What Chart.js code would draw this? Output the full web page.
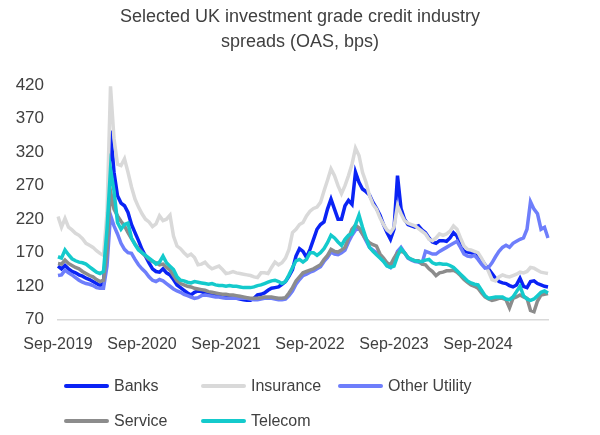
<!DOCTYPE html>
<html>
<head>
<meta charset="utf-8">
<script src="https://cdn.jsdelivr.net/npm/chart.js@4.4.1/dist/chart.umd.min.js"></script>
<style>
  body { margin: 0; background: #fff; font-family: 'Liberation Sans', Arial, sans-serif; }
  #wrap { position: relative; width: 600px; height: 435px; }
  #legend { position: absolute; left: 64px; top: 376px; display: grid; grid-template-columns: 137px 137px 137px; row-gap: 15px; }
  .item { display: flex; align-items: center; height: 20px; font-size: 16px; color: #404040; }
  .swatch { width: 45px; height: 4px; margin-right: 5px; border-radius: 2px; }
</style>
</head>
<body>
<div id="wrap">
  <canvas id="myChart" width="600" height="435"></canvas>
  <div id="legend"></div>
</div>
<script>
// semi-monthly points, Sep-2019 onwards
var dates = [];
for (var i = 0; i <= 140; i++) {
  var m = 8 + Math.floor(i / 2);
  var d = new Date(2019, m, i % 2 ? 16 : 1);
  dates.push(d.toISOString().slice(0, 10));
}
var tickLabels = ['Sep-2019', 'Sep-2020', 'Sep-2021', 'Sep-2022', 'Sep-2023', 'Sep-2024'];

var banks = [
  150, 146, 151, 146, 142, 140, 137, 135, 132, 130,
  127, 124, 121, 124, 200, 352, 290, 255, 244, 240,
  230, 212, 200, 188, 175, 165, 155, 146, 142, 141,
  146, 140, 137, 130, 122, 118, 114, 110, 107, 111,
  113, 112, 110, 109, 107, 106, 105, 104, 104, 103,
  102, 102, 101, 100, 99, 99, 102, 107, 108, 110,
  114, 117, 118, 119, 123, 127, 135, 145, 165, 176,
  172, 163, 175, 190, 205, 212, 216, 235, 250, 235,
  220, 220, 240, 248, 242, 290, 275, 265, 261, 256,
  245, 236, 226, 212, 200, 190, 205, 285, 236, 220,
  212, 210, 208, 210, 204, 200, 192, 186, 184, 188,
  188, 187, 192, 200, 195, 180, 172, 171, 170, 168,
  166, 160, 152, 146, 139, 132, 127, 125, 124, 121,
  119, 122, 132, 120, 118, 127, 128, 124, 122, 120,
  119
];
var insurance = [
  224, 208, 221, 208, 204, 199, 196, 191, 184, 181,
  178, 173, 169, 166, 230, 418, 340, 302, 300, 310,
  290, 268, 250, 238, 228, 220, 216, 209, 213, 225,
  218, 220, 226, 195, 180, 176, 170, 165, 168, 163,
  152, 153, 156, 150, 146, 148, 150, 145, 139, 140,
  142, 140, 139, 138, 137, 136, 134, 133, 140, 140,
  139, 148, 156, 152, 155, 162, 175, 200, 205, 212,
  215, 225, 232, 236, 238, 245, 262, 278, 295, 285,
  270, 258, 270, 285, 302, 326, 315, 290, 275, 255,
  242, 235, 222, 212, 204, 200, 208, 240, 228, 218,
  214, 212, 210, 206, 202, 198, 190, 188, 192, 198,
  196, 198, 202, 210, 205, 192, 180, 175, 174, 172,
  170, 162, 152, 142, 130, 128, 134, 137, 135, 134,
  136, 138, 141, 140, 142, 148, 147, 144, 141, 140,
  139
];
var otherUtility = [
  136, 137, 144, 140, 137, 133, 129, 126, 124, 123,
  121, 118, 117, 117, 150, 226, 210, 198, 184, 175,
  170, 169, 160, 152, 146, 141, 134, 129, 127, 130,
  128, 124, 120, 116, 113, 111, 108, 106, 104, 102,
  103, 106, 107, 106, 105, 104, 104, 103, 102, 102,
  102, 102, 102, 102, 102, 101, 100, 100, 101, 102,
  102, 102, 101, 100, 100, 101, 106, 113, 123, 130,
  136, 138, 141, 143, 146, 149, 157, 163, 171, 168,
  167, 170, 174, 186, 196, 204, 206, 198, 188, 178,
  174, 170, 164, 158, 151, 148, 158, 172, 178, 170,
  162, 159, 157, 156, 154, 172, 170, 168, 168, 172,
  175, 178, 181, 184, 187, 178, 168, 165, 164, 166,
  160, 153, 147, 148, 155, 164, 172, 178, 181, 178,
  184, 187, 190, 192, 205, 246, 235, 228, 205, 208,
  192
];
var service = [
  154, 153, 159, 154, 151, 148, 146, 142, 139, 136,
  134, 130, 127, 129, 170, 262, 235, 225, 217, 210,
  200, 191, 183, 176, 170, 165, 160, 157, 155, 152,
  153, 148, 144, 136, 128, 124, 122, 120, 119, 117,
  116, 115, 114, 112, 111, 110, 109, 108, 108, 107,
  107, 106, 105, 104, 103, 102, 102, 102, 103, 104,
  104, 104, 103, 102, 102, 103, 110, 118, 128, 134,
  140, 142, 144, 146, 149, 152, 160, 166, 175, 172,
  171, 174, 178, 192, 205, 211, 207, 198, 190, 185,
  182, 180, 168, 162, 155, 152, 162, 170, 172, 170,
  163, 160, 158, 158, 153, 152, 146, 142, 136, 140,
  141, 143, 143, 144, 141, 136, 130, 126, 122, 120,
  117, 110, 104, 101, 99, 100, 102, 102, 100, 88,
  102, 104, 107, 104, 102, 84, 82, 98, 107, 108,
  109
];
var telecom = [
  164, 162, 174, 167, 161, 158, 156, 155, 153, 149,
  145, 141, 139, 142, 205, 295, 262, 215, 205, 212,
  214, 192, 182, 174, 170, 166, 162, 158, 153, 156,
  165, 155, 150, 145, 134, 129, 128, 126, 125, 127,
  126, 125, 124, 123, 124, 122, 121, 121, 120, 121,
  120, 120, 119, 118, 118, 118, 119, 121, 122, 124,
  126, 128, 129, 127, 124, 127, 137, 148, 158, 160,
  156, 160, 170, 170, 166, 170, 176, 185, 196, 192,
  186, 181, 190, 196, 198, 212, 226, 208, 192, 178,
  172, 167, 162, 157, 150, 148, 150, 165, 176, 170,
  163, 160, 158, 157, 157, 159, 160, 155, 153, 154,
  153, 153, 151, 148, 143, 138, 133, 128, 125, 123,
  122, 114, 106, 102, 103, 104, 104, 104, 101, 100,
  104, 112, 120, 106, 101, 99, 101, 106, 111, 113,
  110
];

var font = "'Liberation Sans', Arial, sans-serif";
var textColor = '#404040';

function series(label, data, color, order) {
  return { label: label, data: data, borderColor: color, backgroundColor: color,
           borderWidth: 3.5, pointRadius: 0, tension: 0, order: order, yAxisID: 'y' };
}

const ctx = document.getElementById('myChart').getContext('2d');
const myChart = new Chart(ctx, {
  type: 'line',
  data: {
    labels: dates,
    datasets: [
      series('Banks', banks, '#0A23F5', 5),
      series('Insurance', insurance, '#D9D9D9', 4),
      series('Other Utility', otherUtility, '#6E7EFB', 3),
      series('Service', service, '#8C8C8C', 2),
      series('Telecom', telecom, '#14CACC', 1)
    ]
  },
  options: {
    responsive: false,
    animation: false,
    layout: { padding: { left: 0, right: 0, top: 0, bottom: 66 } },
    plugins: {
      legend: { display: false },
      tooltip: { enabled: false },
      title: {
        display: true,
        text: ['Selected UK investment grade credit industry', 'spreads (OAS, bps)'],
        color: textColor,
        font: { family: font, size: 18, weight: 'normal', lineHeight: 1.39 },
        padding: { top: 5, bottom: 30 }
      }
    },
    scales: {
      x: {
        type: 'category',
        offset: false,
        grid: { display: false, drawTicks: false, tickLength: 0 },
        border: { display: true, color: '#D9D9D9', width: 1.5 },
        ticks: {
          autoSkip: false, maxRotation: 0, minRotation: 0, padding: 15,
          color: textColor, font: { family: font, size: 16 },
          callback: function (val, index) {
            return index % 24 === 0 ? tickLabels[index / 24] : null;
          }
        }
      },
      y: {
        min: 70, max: 420,
        grid: { display: false, drawTicks: false, tickLength: 0 },
        border: { display: false },
        afterFit: function (scale) { scale.width = 58; },
        ticks: { stepSize: 50, padding: 14, color: textColor, font: { family: font, size: 17 } }
      },
      // empty right-hand margin so the title stays centred on the page
      yRight: {
        position: 'right',
        min: 70, max: 420,
        grid: { display: false, drawTicks: false },
        border: { display: false },
        ticks: { display: false },
        afterFit: function (scale) { scale.width = 52; }
      }
    }
  }
});

var legend = document.getElementById('legend');
myChart.data.datasets.forEach(function (ds) {
  var item = document.createElement('div');
  item.className = 'item';
  item.innerHTML = '<span class="swatch" style="background:' + ds.borderColor + '"></span>' + ds.label;
  legend.appendChild(item);
});
</script>
</body>
</html>
